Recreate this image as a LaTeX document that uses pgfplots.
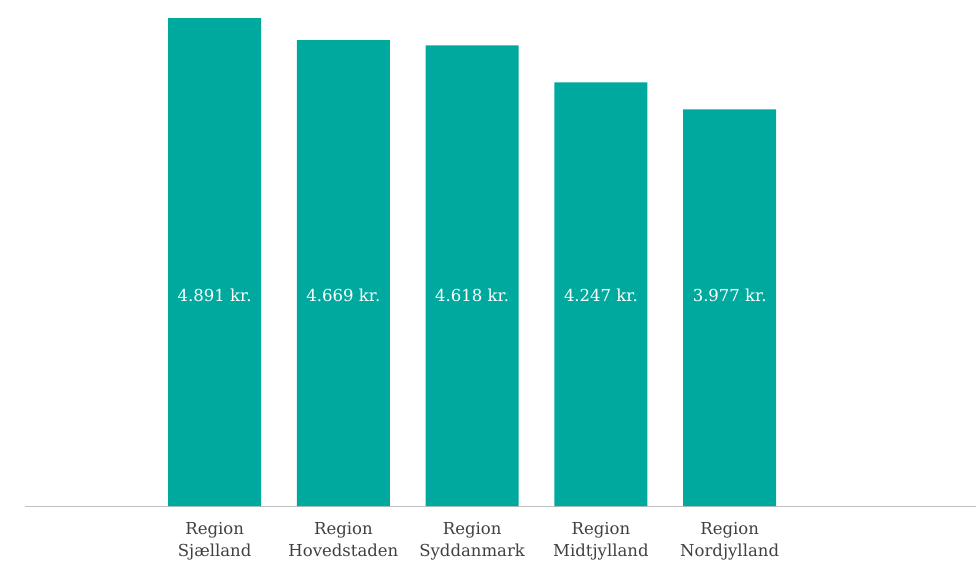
\documentclass[border=0pt]{standalone}
\usepackage{pgfplots}
\pgfplotsset{compat=1.18}
\usepackage{fontspec}
\setmainfont{DejaVu Serif}
\definecolor{teal1}{HTML}{00A99D}
\definecolor{axgray}{HTML}{BFBFBF}
\definecolor{lab}{HTML}{404040}
\begin{document}
\begin{tikzpicture}[x=1pt,y=1pt]
\useasboundingbox (0,0) rectangle (976,561);
\begin{axis}[
  at={(19.5,55)}, anchor=south west,
  scale only axis, width=952pt, height=498.9pt,
  xmin=-1.472, xmax=5.922, ymin=0, ymax=5000,
  axis y line=none, axis x line*=bottom,
  x axis line style={draw=axgray, line width=1pt, -},
  xtick={0,1,2,3,4}, major tick length=0pt,
  xticklabels={{Region\\Sjælland},{Region\\Hovedstaden},{Region\\Syddanmark},{Region\\Midtjylland},{Region\\Nordjylland}},
  xticklabel style={align=center, font=\fontsize{16.5}{22.5}\selectfont, text=lab, yshift=-12.5pt},
  clip=false,
]
\addplot[ybar, bar width=93pt, fill=teal1, draw=none] coordinates {(0,4891) (1,4669) (2,4618) (3,4247) (4,3977)};
\addplot[only marks, mark=none, draw=none, point meta=explicit symbolic,
  nodes near coords, every node near coord/.style={anchor=center, text=white, font=\fontsize{16.5}{18}\selectfont}]
  coordinates {(0,2111)[4.891 kr.] (1,2111)[4.669 kr.] (2,2111)[4.618 kr.] (3,2111)[4.247 kr.] (4,2111)[3.977 kr.]};
\end{axis}
\end{tikzpicture}
\end{document}
